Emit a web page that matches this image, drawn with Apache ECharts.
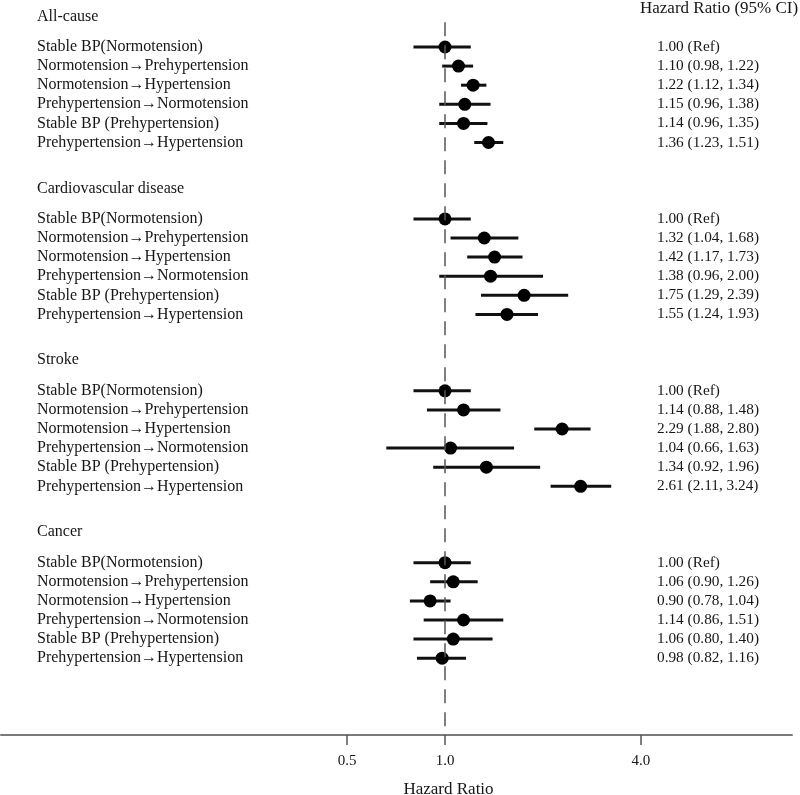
<!DOCTYPE html>
<html><head><meta charset="utf-8">
<script src="https://cdn.jsdelivr.net/npm/echarts@6/dist/echarts.min.js"></script>
<style>html,body{margin:0;padding:0;background:#fff}#c{width:800px;height:795px}</style>
</head><body><div id="c"></div>
<script>
// ---- data ----
const sections = ['All-cause', 'Cardiovascular disease', 'Stroke', 'Cancer'];
const rowLabels = [
  'Stable BP(Normotension)',
  'Normotension\u2192Prehypertension',
  'Normotension\u2192Hypertension',
  'Prehypertension\u2192Normotension',
  'Stable BP (Prehypertension)',
  'Prehypertension\u2192Hypertension'
];
// first row of every section is the reference group (its bar is drawn as in the figure)
const allCauseHR = [1.00, 1.10, 1.22, 1.15, 1.14, 1.36];
const allCauseLo = [0.80, 0.98, 1.12, 0.96, 0.96, 1.23];
const allCauseHi = [1.20, 1.22, 1.34, 1.38, 1.35, 1.51];
const cvdHR = [1.00, 1.32, 1.42, 1.38, 1.75, 1.55];
const cvdLo = [0.80, 1.04, 1.17, 0.96, 1.29, 1.24];
const cvdHi = [1.20, 1.68, 1.73, 2.00, 2.39, 1.93];
const strokeHR = [1.00, 1.14, 2.29, 1.04, 1.34, 2.61];
const strokeLo = [0.80, 0.88, 1.88, 0.66, 0.92, 2.11];
const strokeHi = [1.20, 1.48, 2.80, 1.63, 1.96, 3.24];
const cancerHR = [1.00, 1.06, 0.90, 1.14, 1.06, 0.98];
const cancerLo = [0.80, 0.90, 0.78, 0.86, 0.80, 0.82];
const cancerHi = [1.20, 1.26, 1.04, 1.51, 1.40, 1.16];
const xTicks = [0.5, 1.0, 4.0];
const refLine = 1.0;

// ---- build ----
const groups = [
  {hr: allCauseHR, lo: allCauseLo, hi: allCauseHi},
  {hr: cvdHR, lo: cvdLo, hi: cvdHi},
  {hr: strokeHR, lo: strokeLo, hi: strokeHi},
  {hr: cancerHR, lo: cancerLo, hi: cancerHi}
];
const SLOTS = 9;
const points = [], bars = [], leftVals = [], rightVals = [];
const leftText = {}, rightText = {};
groups.forEach((g, s) => {
  const base = s * SLOTS;
  const h = base - 1.6;
  leftVals.push(h); leftText[String(h)] = sections[s];
  g.hr.forEach((hr, i) => {
    const y = base + i;
    points.push([hr, y]);
    bars.push([g.lo[i], g.hi[i], y]);
    leftVals.push(y); leftText[String(y)] = rowLabels[i];
    rightVals.push(y);
    rightText[String(y)] = i === 0 ? hr.toFixed(2) + ' (Ref)'
      : hr.toFixed(2) + ' (' + g.lo[i].toFixed(2) + ', ' + g.hi[i].toFixed(2) + ')';
  });
});

const FONT = '"Liberation Serif","Times New Roman",serif';
const TXT = '#161616';
const yMin = -2.46, yMax = 36.02;

const chart = echarts.init(document.getElementById('c'), null, {renderer: 'canvas'});
chart.setOption({
  backgroundColor: '#fff',
  animation: false,
  title: {
    text: 'Hazard Ratio (95% CI)', left: 640, top: 0, padding: 0,
    textStyle: {fontFamily: FONT, fontSize: 17, fontWeight: 'normal', color: TXT}
  },
  grid: {left: 1, right: 8, top: 0, bottom: 60, outerBoundsMode: 'none', containLabel: false},
  xAxis: {
    type: 'log', logBase: 2, min: 0.04325, max: 11.64,
    axisLine: {onZero: false, lineStyle: {color: '#7a7a7a', width: 2}},
    axisTick: {show: true, length: 10, customValues: xTicks, lineStyle: {color: '#555', width: 1.5}},
    axisLabel: {customValues: xTicks, formatter: v => Number(v).toFixed(1), margin: 19,
      fontFamily: FONT, fontSize: 15, color: TXT},
    splitLine: {show: false},
    name: 'Hazard Ratio', nameLocation: 'middle', nameGap: 46,
    nameTextStyle: {fontFamily: FONT, fontSize: 17, color: TXT, padding: [0, 0, 0, 104]}
  },
  yAxis: [{
    type: 'value', inverse: true, min: yMin, max: yMax,
    axisLine: {show: false}, axisTick: {show: false}, splitLine: {show: false},
    axisLabel: {customValues: leftVals, formatter: v => leftText[String(v)] || '',
      align: 'left', margin: -36, fontFamily: FONT, fontSize: 16, color: TXT}
  }, {
    type: 'value', inverse: true, min: yMin, max: yMax, position: 'right',
    axisLine: {show: false}, axisTick: {show: false}, splitLine: {show: false},
    axisLabel: {customValues: rightVals, formatter: v => rightText[String(v)] || '',
      align: 'left', margin: -135, fontFamily: FONT, fontSize: 15.3, color: TXT}
  }],
  series: [{
    type: 'custom',
    encode: {x: [0, 1], y: 2},
    data: bars,
    renderItem: (params, api) => {
      const y = api.value(2);
      const a = api.coord([api.value(0), y]);
      const b = api.coord([api.value(1), y]);
      return {type: 'line', shape: {x1: a[0], y1: a[1], x2: b[0], y2: b[1]},
        style: {stroke: '#111', lineWidth: 3}};
    },
    z: 2
  }, {
    type: 'scatter',
    data: points,
    symbol: 'circle', symbolSize: 13,
    itemStyle: {color: '#000', opacity: 1},
    z: 3,
    markLine: {
      silent: true, symbol: 'none', label: {show: false},
      lineStyle: {color: '#555', width: 1.5, type: [14, 9]},
      data: [[{coord: [refLine, -1.3]}, {coord: [refLine, yMax]}]]
    }
  }]
});
</script>
</body></html>
